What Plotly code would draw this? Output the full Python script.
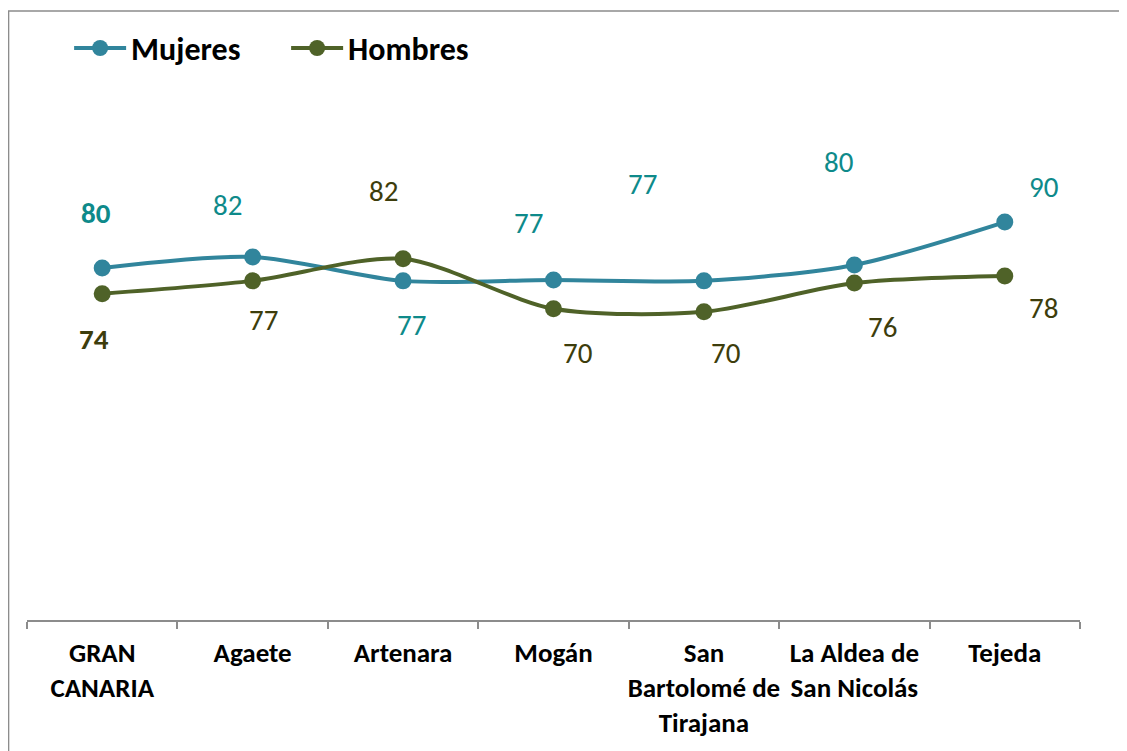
import plotly.graph_objects as go

categories = ["GRAN<br>CANARIA", "Agaete", "Artenara", "Mogán",
              "San<br>Bartolomé de<br>Tirajana", "La Aldea de<br>San Nicolás", "Tejeda"]
mujeres = [79.6, 82.1, 76.7, 76.9, 76.7, 80.3, 90.0]
hombres = [73.8, 76.7, 81.7, 70.4, 69.7, 76.2, 77.8]

# label offsets (pixels) relative to each point
muj_dx = [-6, -25, 8, -25, -61, -16, 39]
muj_dy = [55, 52, -44, 57, 97, 103, 35]
hom_dx = [-8, 11, -20, 24, 22, 28, 39]
hom_dy = [-45, -39, 68, -44, -41, -44, -32]

C_MUJ = "#31859C"
C_HOM = "#4F6228"
T_MUJ = "#0E8A8A"
T_HOM = "#3D3D0C"
FONT = "Carlito, Calibri, Lato, sans-serif"

fig = go.Figure()
fig.add_trace(go.Scatter(x=categories, y=mujeres, name="Mujeres", mode="lines+markers",
                         line=dict(color=C_MUJ, width=4, shape="spline", smoothing=0.8),
                         marker=dict(size=17, color=C_MUJ)))
fig.add_trace(go.Scatter(x=categories, y=hombres, name="Hombres", mode="lines+markers",
                         line=dict(color=C_HOM, width=4, shape="spline", smoothing=0.8),
                         marker=dict(size=17, color=C_HOM)))

for i, cat in enumerate(categories):
    fig.add_annotation(x=cat, y=mujeres[i], text=f"{mujeres[i]:.0f}", showarrow=False,
                       xshift=muj_dx[i], yshift=muj_dy[i],
                       font=dict(family=FONT, size=29, color=T_MUJ,
                                 weight="bold" if i == 0 else "normal"))
    fig.add_annotation(x=cat, y=hombres[i], text=f"{hombres[i]:.0f}", showarrow=False,
                       xshift=hom_dx[i], yshift=hom_dy[i],
                       font=dict(family=FONT, size=29, color=T_HOM,
                                 weight="bold" if i == 0 else "normal"))

fig.add_shape(type="rect", xref="paper", yref="paper",
              x0=-0.0175, x1=1.1, y0=-0.25, y1=1.015,
              line=dict(color="#8C8C8C", width=1.5), layer="below")

fig.update_layout(
    width=1119, height=743,
    margin=dict(l=19, r=47, t=12, b=131, autoexpand=False),
    paper_bgcolor="white", plot_bgcolor="white",
    font=dict(family=FONT, color="black"),
    xaxis=dict(type="category", categoryorder="array", categoryarray=categories,
               range=[-0.5, 6.5], tickson="boundaries", ticks="outside",
               ticklen=7, tickcolor="#8C8C8C", tickwidth=1.5,
               showline=True, linecolor="#8C8C8C", linewidth=1.5,
               showgrid=False, zeroline=False, ticklabelstandoff=8,
               tickangle=0, automargin=False,
               tickfont=dict(family=FONT, size=27, color="black", weight="bold")),
    yaxis=dict(range=[0, 135.7], visible=False, automargin=False),
    legend=dict(orientation="h", x=0.04, y=0.953, xanchor="left", yanchor="middle",
                entrywidth=150, itemwidth=52,
                font=dict(family=FONT, size=32, color="black", weight="bold"),
                bgcolor="rgba(0,0,0,0)"),
    showlegend=True,
)

fig.write_html("out.html")
